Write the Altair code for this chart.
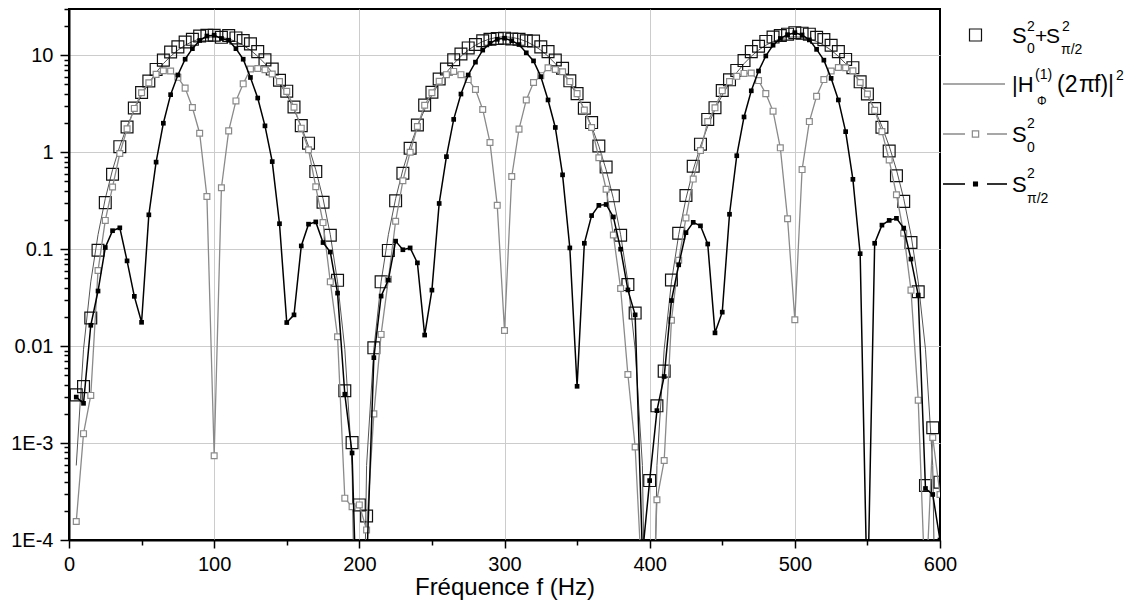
import altair as alt
import pandas as pd

# ---------------- data ----------------
FREQ = list(range(5, 605, 5))

S_SUM = [0.00314, 0.00382, 0.0195, 0.0973, 0.302, 0.593, 1.14, 1.82, 2.86, 4.13,
         5.42, 7.14, 8.91, 10.8, 12.2, 13.7, 14.6, 15.8, 16.1, 16.1,
         15.3, 16.0, 15.1, 14.2, 13.1, 10.9, 8.96, 7.2, 5.53, 4.26,
         2.93, 1.88, 1.24, 0.631, 0.305, 0.139, 0.0477, 0.00346, 0.00101, 2.3e-4,
         1.77e-4, 0.0096, 0.046, 0.0971, 0.315, 0.606, 1.10, 1.91, 3.06, 4.15,
         5.69, 7.21, 8.99, 10.3, 11.9, 12.9, 14.1, 14.6, 14.9, 15.0,
         14.7, 14.6, 14.1, 14.0, 12.2, 10.9, 8.94, 7.34, 5.45, 4.02,
         2.84, 2.02, 1.16, 0.704, 0.355, 0.139, 0.0431, 0.0219, 6e-5, 4.1e-4,
         0.00242, 0.00552, 0.048, 0.146, 0.358, 0.717, 1.21, 2.18, 2.88, 4.33,
         5.58, 6.98, 8.81, 10.9, 12.4, 13.9, 15.4, 16.0, 16.5, 17.1,
         16.9, 16.5, 15.3, 14.5, 12.7, 10.9, 9.06, 7.45, 5.32, 3.98,
         2.82, 1.81, 1.03, 0.572, 0.311, 0.117, 0.0364, 3.65e-4, 0.00144, 3.95e-4]

S_ZERO = [1.55e-4, 0.00125, 0.0031, 0.0603, 0.198, 0.438, 0.97, 1.74, 2.83, 4.11,
          5.19, 6.35, 6.92, 6.88, 5.92, 4.58, 2.89, 1.57, 0.349, 7.4e-4,
          0.43, 1.66, 3.38, 5.07, 7.21, 7.3, 7.09, 6.4, 5.35, 4.24,
          2.91, 1.77, 1.06, 0.44, 0.188, 0.046, 0.0125, 2.7e-4, 2.2e-4, 2.3e-4,
          1.27e-4, 0.002, 0.0132, 0.0489, 0.194, 0.507, 1.0, 1.84, 3.05, 4.11,
          5.39, 6.31, 6.81, 6.31, 5.61, 4.44, 2.76, 1.26, 0.283, 0.0145,
          0.562, 1.73, 3.46, 5.23, 6.16, 7.43, 7.14, 6.76, 5.35, 4.02,
          2.72, 1.8, 0.877, 0.415, 0.14, 0.0393, 0.0051, 9.1e-4, 3e-5, 2e-6,
          2.6e-4, 6.6e-4, 0.0185, 0.0769, 0.21, 0.528, 1.04, 2.07, 2.87, 4.31,
          5.35, 6.06, 6.5, 6.56, 5.48, 4.02, 2.65, 1.11, 0.206, 0.0187,
          0.662, 2.07, 3.77, 5.61, 6.88, 7.48, 7.43, 6.92, 5.23, 3.98,
          2.7, 1.63, 0.83, 0.364, 0.146, 0.0378, 0.00277, 2.5e-5, 0.00114, 2.95e-4]

S_HALFPI = [0.00298, 0.00257, 0.0164, 0.037, 0.104, 0.155, 0.166, 0.0757, 0.0326, 0.0176,
            0.226, 0.79, 1.99, 3.92, 6.26, 9.1, 11.7, 14.2, 15.8, 16.1,
            14.9, 14.3, 11.7, 9.1, 5.9, 3.62, 1.87, 0.80, 0.183, 0.0175,
            0.021, 0.108, 0.181, 0.191, 0.117, 0.0934, 0.0352, 0.00319, 7.9e-4, 2e-6,
            5e-5, 0.0076, 0.0328, 0.0482, 0.121, 0.0986, 0.103, 0.0722, 0.013, 0.0378,
            0.296, 0.90, 2.18, 3.98, 6.26, 8.49, 11.3, 13.3, 14.6, 15.0,
            14.1, 12.9, 10.6, 8.75, 6.02, 3.46, 1.80, 0.584, 0.103, 0.00385,
            0.115, 0.222, 0.283, 0.289, 0.215, 0.100, 0.038, 0.021, 7e-5, 4.1e-4,
            0.00216, 0.00486, 0.0295, 0.0689, 0.148, 0.189, 0.174, 0.113, 0.0137, 0.0224,
            0.229, 0.92, 2.31, 4.3, 6.88, 9.84, 12.7, 14.9, 16.3, 17.1,
            16.2, 14.4, 11.5, 8.9, 5.78, 3.46, 1.63, 0.525, 0.0898, 2e-5,
            0.115, 0.177, 0.198, 0.208, 0.165, 0.079, 0.0336, 3.4e-4, 2.95e-4, 1e-4]

H_PHI = [5.87e-4, 0.00928, 0.046, 0.141, 0.332, 0.659, 1.155, 1.85, 2.757, 3.875,
         5.182, 6.64, 8.192, 9.769, 11.29, 12.68, 13.86, 14.75, 15.31, 15.5,
         15.31, 14.75, 13.86, 12.68, 11.29, 9.769, 8.192, 6.64, 5.182, 3.875,
         2.757, 1.85, 1.155, 0.659, 0.332, 0.141, 0.046, 0.00928, 5.87e-4, 1e-8,
         5.87e-4, 0.00928, 0.046, 0.141, 0.332, 0.659, 1.155, 1.85, 2.757, 3.875,
         5.182, 6.64, 8.192, 9.769, 11.29, 12.68, 13.86, 14.75, 15.31, 15.5,
         15.31, 14.75, 13.86, 12.68, 11.29, 9.769, 8.192, 6.64, 5.182, 3.875,
         2.757, 1.85, 1.155, 0.659, 0.332, 0.141, 0.046, 0.00928, 5.87e-4, 1e-8,
         5.87e-4, 0.00928, 0.046, 0.141, 0.332, 0.659, 1.155, 1.85, 2.757, 3.875,
         5.182, 6.64, 8.192, 9.769, 11.29, 12.68, 13.86, 14.75, 15.31, 15.5,
         15.31, 14.75, 13.86, 12.68, 11.29, 9.769, 8.192, 6.64, 5.182, 3.875,
         2.757, 1.85, 1.155, 0.659, 0.332, 0.141, 0.046, 0.00928, 5.87e-4, 1e-8]

X_TICKS = [0, 50, 100, 150, 200, 250, 300, 350, 400, 450, 500, 550, 600]
Y_TICKS = [m * 10.0 ** e for e in range(-4, 2) for m in range(1, 10) if m * 10.0 ** e <= 30]

# ---------------- layout ----------------
FONT = "Liberation Sans"
W, H = 871, 531
PAD = {"left": 61, "top": 1, "right": 199, "bottom": 62}
OX, OY = 69, 9  # page position of plot origin


def frame(vals):
    return pd.DataFrame({"f": FREQ, "v": vals})


MAJ_Y = "abs(log(datum.value)/LN10 - round(log(datum.value)/LN10)) < 0.001"

x_scale = alt.Scale(domain=[0, 600], nice=False, zero=False)
y_scale = alt.Scale(type="log", domain=[1e-4, 30], nice=False)

x_axis = alt.Axis(
    values=X_TICKS,
    labelExpr="datum.value % 100 == 0 ? datum.label : ''",
    tickSize={"condition": {"test": "datum.value % 100 == 0", "value": 8}, "value": 5},
    gridOpacity={"condition": {"test": "datum.value % 100 == 0 && datum.value > 0 && datum.value < 600",
                               "value": 1}, "value": 0},
    labelPadding=6, labelFlush=False, labelOverlap=False,
    title="Fréquence f (Hz)", titlePadding=1,
)
y_axis = alt.Axis(
    values=Y_TICKS,
    labelExpr=MAJ_Y + " ? (datum.value < 0.005 ? '1E' + round(log(datum.value)/LN10) : format(datum.value, '~g')) : ''",
    tickSize={"condition": {"test": MAJ_Y, "value": 9}, "value": 5},
    gridOpacity={"condition": {"test": MAJ_Y + " && datum.value > 0.0002", "value": 1}, "value": 0},
    labelPadding=7, labelFlush=False, labelOverlap=False, title=None,
)

X = alt.X("f:Q", scale=x_scale, axis=x_axis)
Y = alt.Y("v:Q", scale=y_scale, axis=y_axis)

h_line = alt.Chart(frame(H_PHI)).mark_line(color="#555555", strokeWidth=1, clip=True).encode(x=X, y=Y)
sum_pts = alt.Chart(frame(S_SUM)).mark_point(
    shape="square", size=140, filled=False, color="#111111", strokeWidth=1.2, opacity=1, clip=True
).encode(x=X, y=Y)
zero_line = alt.Chart(frame(S_ZERO)).mark_line(color="#8a8a8a", strokeWidth=1.3, clip=True).encode(x=X, y=Y)
zero_pts = alt.Chart(frame(S_ZERO)).mark_point(
    shape="square", size=34, filled=True, fill="white", stroke="#8a8a8a", strokeWidth=1.2, opacity=1, clip=True
).encode(x=X, y=Y)
half_line = alt.Chart(frame(S_HALFPI)).mark_line(color="black", strokeWidth=1.5, clip=True).encode(x=X, y=Y)
half_pts = alt.Chart(frame(S_HALFPI)).mark_point(
    shape="square", size=22, filled=True, color="black", opacity=1, clip=True
).encode(x=X, y=Y)

# ---------------- legend (built from text / symbol marks) ----------------
dummy = pd.DataFrame({"a": [0]})


def ltext(txt, px, py, size=22):
    return alt.Chart(dummy).mark_text(
        text=txt, font=FONT, fontSize=size, align="left", baseline="alphabetic", color="black"
    ).encode(x=alt.value(px - OX), y=alt.value(py - OY))


def lrule(x1, x2, py, color, width):
    return alt.Chart(dummy).mark_rule(color=color, strokeWidth=width).encode(
        x=alt.value(x1 - OX), x2=alt.value(x2 - OX), y=alt.value(py - OY))


def lsym(px, py, **kw):
    return alt.Chart(dummy).mark_point(shape="square", opacity=1, **kw).encode(
        x=alt.value(px - OX), y=alt.value(py - OY))


legend = [
    # S0^2 + Spi/2^2
    lsym(975.5, 35, size=144, filled=False, color="#111111", strokeWidth=1.2),
    ltext("S", 1012, 42.7), ltext("2", 1027, 30.5, 14), ltext("0", 1027, 53, 14),
    ltext("+", 1035, 42.7, 21), ltext("S", 1046, 42.7, 21),
    ltext("2", 1062, 30.5, 14), ltext("\u03c0/2", 1061, 54, 14),
    # |H|^2
    lrule(943, 1005, 84, "#8a8a8a", 1.5),
    ltext("|H", 1012, 91.7), ltext("(1)", 1035, 79, 14), ltext("\u03a6", 1037, 105, 12),
    ltext("(2", 1057, 91.7, 23), ltext("\u03c0", 1079, 91.7, 23), ltext("f)|", 1094, 91.7, 23),
    ltext("2", 1116, 80, 14),
    # S0^2
    lrule(943, 965, 134, "#8a8a8a", 1.5), lrule(987, 1007, 134, "#8a8a8a", 1.5),
    lsym(975.5, 134, size=40, filled=True, fill="white", stroke="#8a8a8a", strokeWidth=1.2),
    ltext("S", 1012, 141.7), ltext("2", 1027, 127.5, 14), ltext("0", 1027, 152, 14),
    # Spi/2^2
    lrule(943, 965, 184, "black", 1.6), lrule(987, 1007, 184, "black", 1.6),
    lsym(975.5, 184, size=26, filled=True, color="black"),
    ltext("S", 1012, 191.7), ltext("2", 1027, 178, 14), ltext("\u03c0/2", 1027, 203, 14),
]

chart = alt.layer(
    h_line, sum_pts, zero_line, zero_pts, half_line, half_pts, *legend
).properties(
    width=W, height=H, padding=PAD, autosize=alt.AutoSizeParams(type="none"), background="white"
).configure_view(
    stroke="black", strokeWidth=2
).configure_axis(
    domainColor="black", domainWidth=2, tickColor="black", tickWidth=1.5,
    gridColor="#cccccc", gridWidth=1,
    labelFont=FONT, labelFontSize=20, labelColor="black",
    titleFont=FONT, titleFontSize=24, titleColor="black", titleFontWeight="normal",
)

chart.save("out.html", embed_options={"renderer": "svg", "actions": False})
